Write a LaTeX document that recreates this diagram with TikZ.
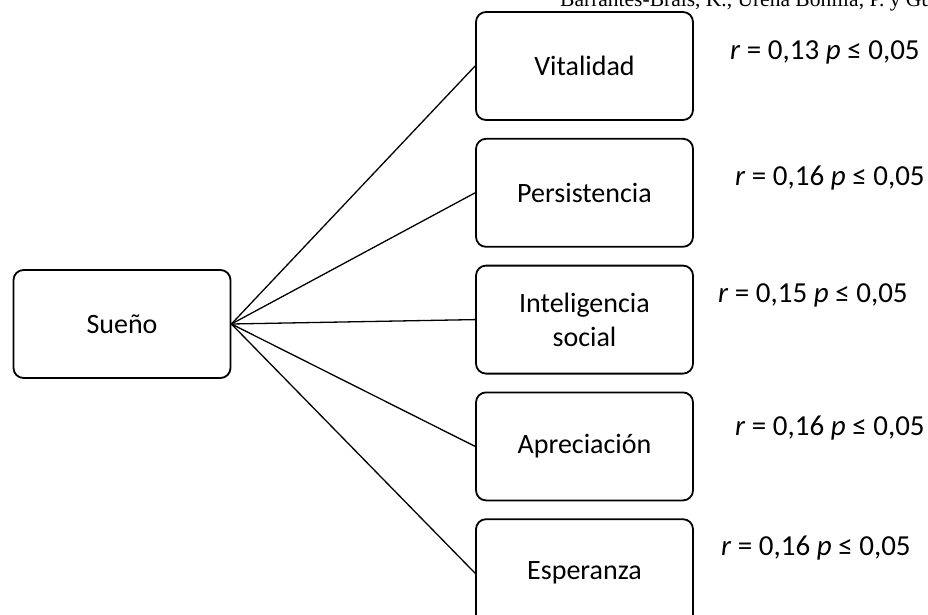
\documentclass[tikz,border=0pt]{standalone}
\usepackage{fontspec}
\setmainfont{Carlito}
\newfontfamily\headfont{Liberation Serif}
\usetikzlibrary{positioning}

\begin{document}
\begin{tikzpicture}[x=1pt,y=-1pt,
  factor/.style={draw, line width=1.8pt, rounded corners=10pt,
    minimum width=217pt, minimum height=108pt, inner sep=0pt,
    align=center, font=\fontsize{28}{34}\selectfont},
  stat/.style={anchor=base west, inner sep=0pt, font=\fontsize{29}{34}\selectfont},
  link/.style={line width=1.3pt}]

\useasboundingbox[clip] (0,0) rectangle (928,615);

% running header of the page, cut at the top
\node[anchor=base west, inner sep=0pt, font=\headfont\fontsize{21.5}{24}\selectfont]
  (head) at (560,7) {Barrantes-Brais, K., Ureña Bonilla, P. y Gu};

\node[factor] (sueno) at (122,324) {Sueño};

\node[factor] (vital) at (584.5,66) {Vitalidad};
\node[factor, below=17pt of vital] (pers) {Persistencia};
\node[factor, below=17pt of pers] (intel) {Inteligencia\\social};
\node[factor, below=17pt of intel] (aprec) {Apreciación};
\node[factor, below=17pt of aprec] (esper) {Esperanza};

\foreach \f in {vital,pers,intel,aprec,esper}
  \draw[link] (sueno.east) -- (\f.west);

\node[stat] (rvital) at (730,60) {\textit{r} = 0,13 \textit{p} ≤ 0,05};
\node[stat] (rpers) at (735,185) {\textit{r} = 0,16 \textit{p} ≤ 0,05};
\node[stat] (rintel) at (718,302) {\textit{r} = 0,15 \textit{p} ≤ 0,05};
\node[stat] (raprec) at (735,435) {\textit{r} = 0,16 \textit{p} ≤ 0,05};
\node[stat] (resper) at (721,555) {\textit{r} = 0,16 \textit{p} ≤ 0,05};

\end{tikzpicture}
\end{document}
